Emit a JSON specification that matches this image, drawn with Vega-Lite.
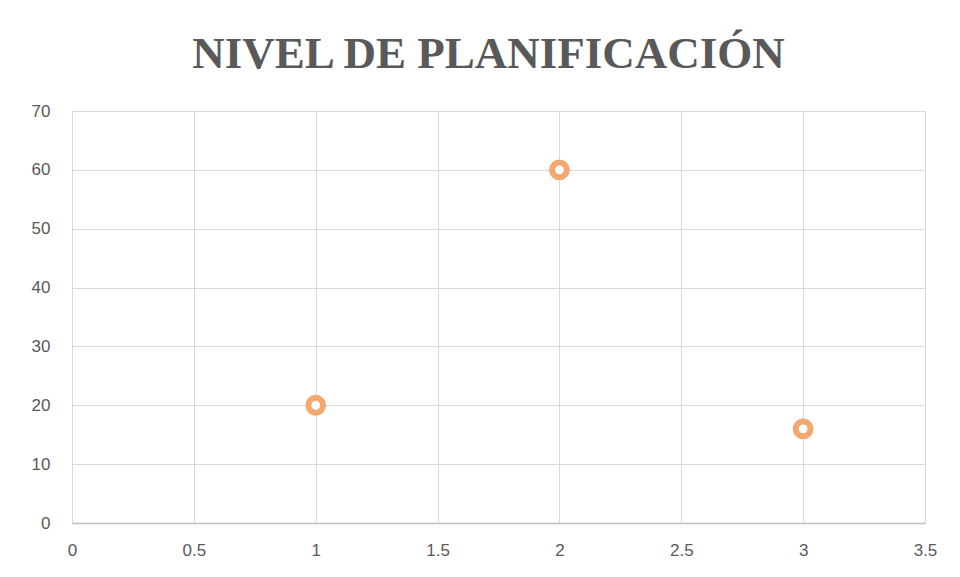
{
  "$schema": "https://vega.github.io/schema/vega-lite/v6.json",
  "width": 853,
  "height": 412,
  "autosize": {"type": "none"},
  "padding": {"left": 72, "top": 111, "right": 35, "bottom": 54},
  "background": "white",
  "title": {
    "text": "NIVEL DE PLANIFICACIÓN",
    "font": "Liberation Serif",
    "fontWeight": "bold",
    "fontSize": 45,
    "color": "#595959",
    "anchor": "middle",
    "offset": -11,
    "baseline": "alphabetic",
    "dx": -10
  },
  "config": {
    "view": {"stroke": null},
    "axis": {
      "labelFont": "Liberation Sans",
      "labelFontSize": 17,
      "labelColor": "#595959",
      "gridColor": "#d9d9d9",
      "gridWidth": 1,
      "ticks": false,
      "title": null
    }
  },
  "data": {
    "values": [
      {"x": 1, "y": 20},
      {"x": 2, "y": 60},
      {"x": 3, "y": 16}
    ]
  },
  "mark": {
    "type": "point",
    "shape": "circle",
    "filled": false,
    "fill": "white",
    "fillOpacity": 1,
    "stroke": "#F4A870",
    "strokeWidth": 6,
    "size": 220,
    "opacity": 1
  },
  "encoding": {
    "x": {
      "field": "x",
      "type": "quantitative",
      "scale": {"domain": [0, 3.5], "nice": false, "zero": true},
      "axis": {
        "values": [0, 0.5, 1, 1.5, 2, 2.5, 3, 3.5],
        "format": "~g",
        "labelPadding": 19,
        "domain": true,
        "domainColor": "#bfbfbf",
        "domainWidth": 1.5,
        "labelFlush": false
      }
    },
    "y": {
      "field": "y",
      "type": "quantitative",
      "scale": {"domain": [0, 70], "nice": false},
      "axis": {
        "values": [0, 10, 20, 30, 40, 50, 60, 70],
        "labelPadding": 22,
        "domain": false,
        "labelFlush": false
      }
    }
  }
}
